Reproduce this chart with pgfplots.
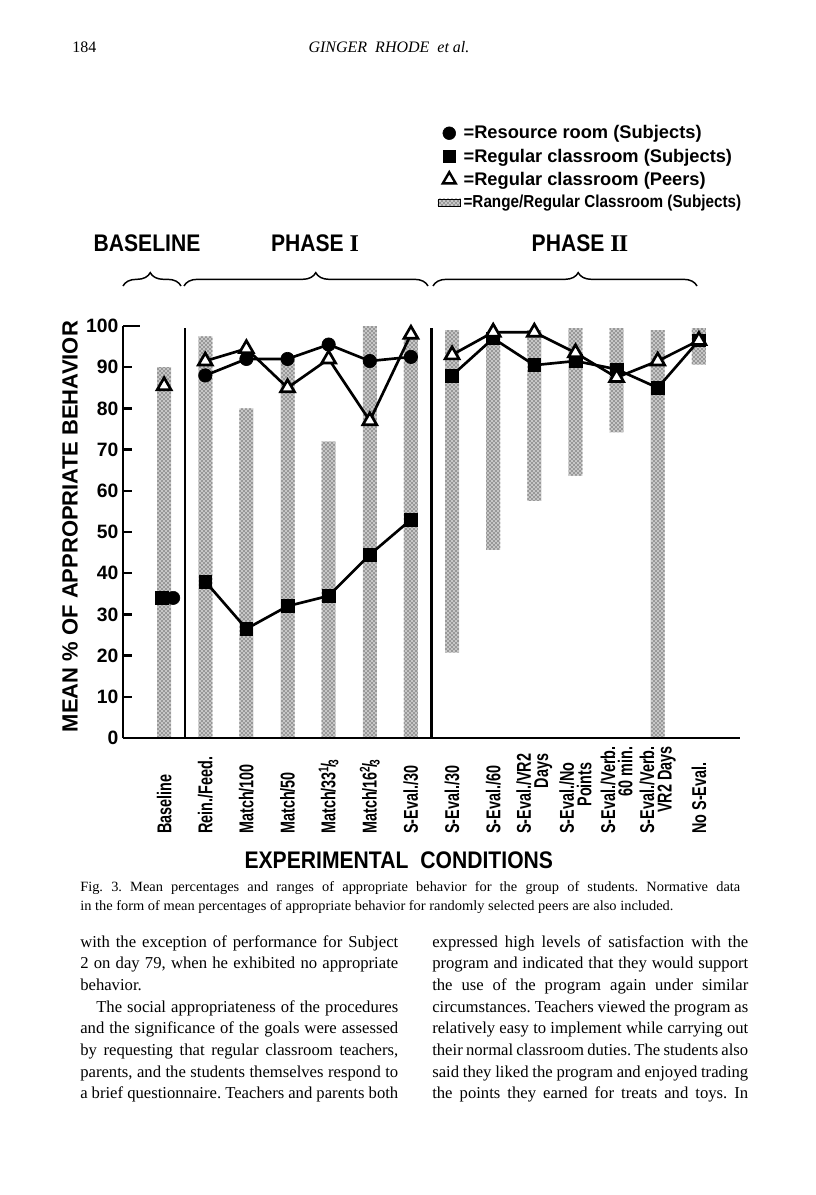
\documentclass[border=0pt]{standalone}
\usepackage{fontspec}
\setmainfont{Liberation Serif}
\newfontfamily\capfont[FakeStretch=1.02]{Liberation Serif}
\newfontfamily\sansB{Liberation Sans}
\newfontfamily\sansA[FakeStretch=0.72]{Liberation Sans}
\newfontfamily\sansC[FakeStretch=0.88]{Liberation Sans}
\usepackage{pgfplots}
\pgfplotsset{compat=1.18}
\usetikzlibrary{patterns,decorations.pathreplacing}

\newcommand\fr[2]{\textsuperscript{#1}\kern-.08em/\kern-.08em\textsubscript{#2}}
% one justified line of body text
\newcommand\bline[3]{\node[anchor=base west, inner sep=0pt, font=\fontsize{12.5}{14}\selectfont] at (#1) {\frenchspacing\hbox to #2{#3}};}

\pgfplotsset{panel/.style={scale only axis, width=462.75pt, height=309pt,
  xmin=-1, xmax=14, ymin=0, ymax=100, at={(92.25pt,-553.5pt)}, anchor=south west},
  stipple/.style={fill=black!22, postaction={pattern=crosshatch dots, pattern color=black}}}

\begin{document}
\begin{tikzpicture}
\fill[white] (0,0) rectangle (612pt,-896.25pt);

% ranges (regular classroom, subjects): top of range, then its lower end masked in white
\begin{axis}[panel, axis lines=none, ybar]
\addplot[bar shift=0pt, bar width=10.5pt, draw=none, stipple]
  coordinates {(0,90)(1,97.5)(2,80)(3,92)(4,72)(5,100)(6,97.5)
               (7,99)(8,98.5)(9,99)(10,99.5)(11,99.5)(12,99)(13,99.5)};
\addplot[bar shift=0pt, bar width=12.5pt, draw=none, fill=white]
  coordinates {(0,0)(1,0)(2,0)(3,0)(4,0)(5,0)(6,0)
               (7,20.7)(8,45.6)(9,57.5)(10,63.6)(11,74.2)(12,0)(13,90.6)};
\end{axis}

\begin{axis}[panel, clip=false,
  axis x line=bottom, axis y line=left,
  axis line style={-, line width=2.2pt},
  /pgf/number format/assume math mode=true,
  ytick={0,10,...,90}, extra y ticks={100},
  extra y tick style={major tick length=13pt},
  tick align=inside, major tick length=7pt,
  ytick style={line width=1.8pt, black},
  yticklabel style={font=\sansB\bfseries\fontsize{14.5}{15}\selectfont},
  xtick={0,...,13}, xtick style={draw=none},
  xticklabels={Baseline, Rein./Feed., Match/100, Match/50, Match/33\fr{1}{3}, Match/16\fr{2}{3},
    S-Eval./30, S-Eval./30, S-Eval./60, {S-Eval./VR2\\Days}, {S-Eval./No\\Points},
    {S-Eval./Verb.\\60 min.}, {S-Eval./Verb.\\VR2 Days}, No S-Eval.},
  xticklabel style={font=\sansA\bfseries\fontsize{15}{13}\selectfont, yshift=-72pt,
    rotate=90, anchor=west, align=right, inner sep=0pt},
  ylabel={MEAN \% OF APPROPRIATE BEHAVIOR},
  ylabel style={at={(axis description cs:-0.086,0.513)}, anchor=center,
    font=\sansB\bfseries\fontsize{16.5}{18}\selectfont},
  xlabel={EXPERIMENTAL\hspace{0.5em}CONDITIONS},
  xlabel style={at={(axis description cs:0.447,-0.296)}, anchor=center,
    font=\sansC\bfseries\fontsize{18}{20}\selectfont},
  legend style={at={(axis description cs:0.503,1.5)}, anchor=north west, draw=none,
    fill=none, font=\sansB\bfseries\fontsize{13.7}{15}\selectfont, row sep=2pt},
  legend cell align=left,
]
\addlegendimage{only marks, mark=*, mark size=4.8pt}
\addlegendimage{only marks, mark=square*, mark size=4.6pt}
\addlegendimage{only marks, mark=triangle, mark size=5.6pt, mark options={line width=1.8pt}}
\addlegendimage{area legend, draw=none, stipple}
\legend{{=Resource room (Subjects)}, {=Regular classroom (Subjects)},
  {=Regular classroom (Peers)}, {\sansC\fontsize{13}{14}\selectfont =Range/Regular Classroom (Subjects)}}

% phase change lines
\addplot[black, line width=1.6pt, no marks] coordinates {(0.5,0)(0.5,99.5)};
\addplot[black, line width=1.6pt, no marks] coordinates {(6.5,0)(6.5,99.5)};

% resource room (subjects)
\addplot[black, only marks, mark=*, mark size=5pt] coordinates {(0.22,34)};
\addplot[black, line width=2pt, mark=*, mark size=5pt, mark options={line width=0.5pt}]
  coordinates {(1,88)(2,92)(3,92)(4,95.5)(5,91.5)(6,92.5)};

% regular classroom (subjects)
\addplot[black, only marks, mark=square*, mark size=4.8pt] coordinates {(-0.05,34)};
\addplot[black, line width=2pt, mark=square*, mark size=4.8pt, mark options={line width=0.5pt}]
  coordinates {(1,38)(2,26.5)(3,32)(4,34.5)(5,44.5)(6,53)};
\addplot[black, line width=2pt, mark=square*, mark size=4.8pt, mark options={line width=0.5pt}]
  coordinates {(7,88)(8,97)(9,90.5)(10,91.5)(11,89.5)(12,85)(13,96.5)};

% regular classroom (peers)
\addplot[black, only marks, mark=triangle*, mark size=6pt, mark options={fill=white, line width=2pt}]
  coordinates {(0,85.5)};
\addplot[black, line width=2pt, mark=triangle*, mark size=6pt, mark options={fill=white, line width=2pt}]
  coordinates {(1,91.5)(2,94.5)(3,85)(4,92)(5,77)(6,98)};
\addplot[black, line width=2pt, mark=triangle*, mark size=6pt, mark options={fill=white, line width=2pt}]
  coordinates {(7,93)(8,98.5)(9,98.5)(10,93.5)(11,87.5)(12,91.5)(13,96.5)};
\end{axis}

\begin{scope}[x=0.75pt, y=-0.75pt]
% running head
\node[anchor=base west, inner sep=0pt, font=\fontsize{12}{14}\selectfont] at (72,53) {184};
\node[anchor=base, inner sep=0pt, font=\itshape\fontsize{12}{14}\selectfont] at (389,53) {GINGER\ \ RHODE \ \textit{et al.}};

% phase headings and braces
\node[font=\sansC\bfseries\fontsize{18}{20}\selectfont] at (147,243) {BASELINE};
\node[font=\sansC\bfseries\fontsize{18}{20}\selectfont] at (315,243) {PHASE {\rmfamily I}};
\node[font=\sansC\bfseries\fontsize{18}{20}\selectfont] at (580,243) {PHASE {\rmfamily I\kern-.03em I}};
\draw[line width=1.1pt, decorate, decoration={brace, amplitude=10pt, aspect=0.47}] (123,286) -- (181,286);
\draw[line width=1.1pt, decorate, decoration={brace, amplitude=10pt, aspect=0.54}] (184,286) -- (428,286);
\draw[line width=1.1pt, decorate, decoration={brace, amplitude=10pt, aspect=0.55}] (433,286) -- (697,286);

% caption
\node[anchor=base west, inner sep=0pt, font=\capfont\fontsize{10.6}{12}\selectfont] at (80,891)
  {\frenchspacing\hbox to 495pt{Fig. 3. Mean percentages and ranges of appropriate behavior for the group of students. Normative data}};
\node[anchor=base west, inner sep=0pt, font=\capfont\fontsize{10.6}{12}\selectfont] at (80,910)
  {\frenchspacing in the form of mean percentages of appropriate behavior for randomly selected peers are also included.};

% body text, left column
\bline{80,947}{238.5pt}{with the exception of performance for Subject}
\bline{80,968.7}{238.5pt}{2 on day 79, when he exhibited no appropriate}
\node[anchor=base west, inner sep=0pt, font=\fontsize{12.5}{14}\selectfont] at (80,990.4) {behavior.};
\bline{96,1012.1}{226.5pt}{The social appropriateness of the procedures}
\bline{80,1033.8}{238.5pt}{and the significance of the goals were assessed}
\bline{80,1055.5}{238.5pt}{by requesting that regular classroom teachers,}
\bline{80,1077.2}{238.5pt}{parents, and the students themselves respond to}
\bline{80,1098.9}{238.5pt}{a brief questionnaire. Teachers and parents both}

% body text, right column
\bline{432,947}{237pt}{expressed high levels of satisfaction with the}
\bline{432,968.7}{237pt}{program and indicated that they would support}
\bline{432,990.4}{237pt}{the use of the program again under similar}
\bline{432,1012.1}{237pt}{circumstances. Teachers viewed the program as}
\bline{432,1033.8}{237pt}{relatively easy to implement while carrying out}
\bline{432,1055.5}{237pt}{their normal classroom duties. The students also}
\bline{432,1077.2}{237pt}{said they liked the program and enjoyed trading}
\bline{432,1098.9}{237pt}{the points they earned for treats and toys. In}
\end{scope}
\end{tikzpicture}
\end{document}
